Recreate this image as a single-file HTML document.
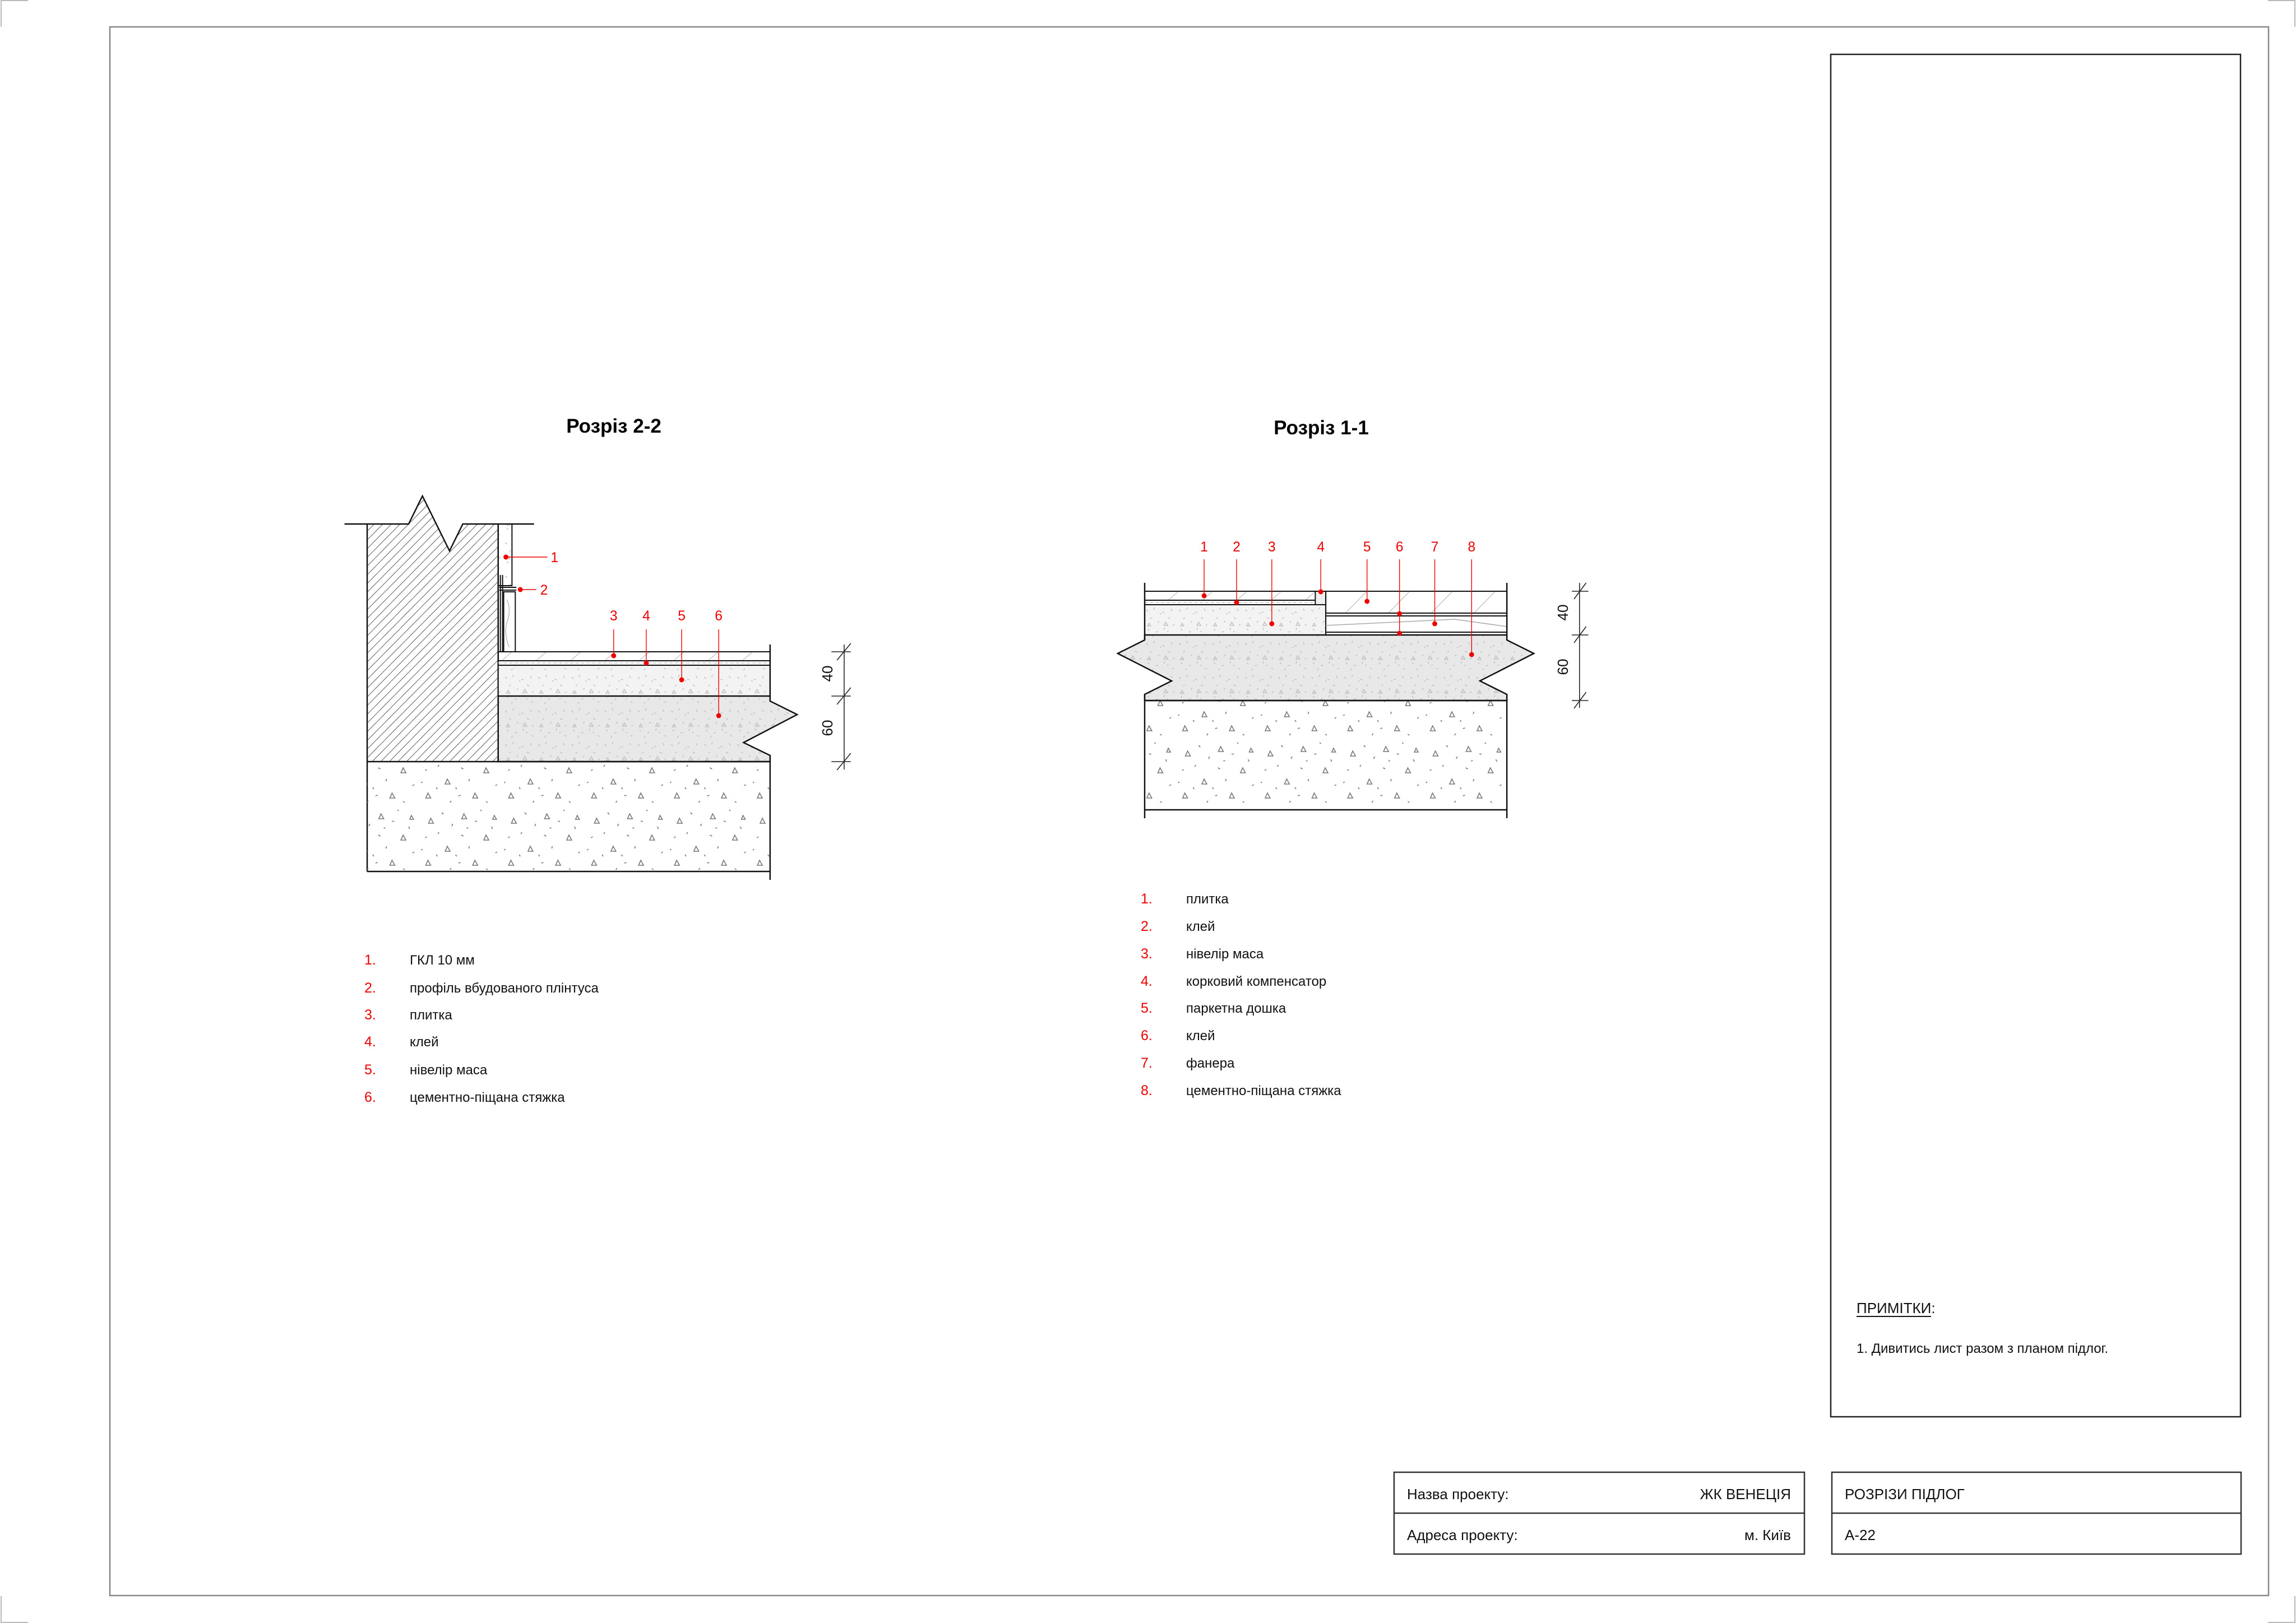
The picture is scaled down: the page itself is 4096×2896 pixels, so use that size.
<!DOCTYPE html>
<html><head><meta charset="utf-8"><style>
html,body{margin:0;padding:0;background:#fff}
svg{display:block}
text{font-family:"Liberation Sans","DejaVu Sans",sans-serif}
</style></head><body>
<svg width="4096" height="2896" viewBox="0 0 4096 2896" xmlns="http://www.w3.org/2000/svg">
<defs>
<pattern id="hatch" width="11" height="11" patternUnits="userSpaceOnUse" patternTransform="rotate(45)">
<line x1="0" y1="0" x2="0" y2="11" stroke="#333" stroke-width="1.6"/></pattern>
<pattern id="tileh" width="40" height="40" patternUnits="userSpaceOnUse" patternTransform="rotate(50)">
<line x1="0" y1="0" x2="0" y2="40" stroke="#999" stroke-width="1.5"/></pattern>
<pattern id="woodh" width="55" height="55" patternUnits="userSpaceOnUse" patternTransform="rotate(45)">
<line x1="0" y1="0" x2="0" y2="55" stroke="#999" stroke-width="1.6"/></pattern>
<pattern id="speck" width="60" height="60" patternUnits="userSpaceOnUse">
<g stroke="#bbb" stroke-width="1.3" fill="none">
<path d="M5 8l3 3M20 4l-2 4M34 12l4 1M50 6l2 4M12 24l3-2M28 28l-2 3M44 22l4 2M56 34l-3 2M8 42l2 3M22 48l4-1M38 40l-1 4M52 52l3 2M16 56l2-3M30 14l2 2M45 46l-2 2"/>
<path d="M40 30l4 6h-7zM10 32l3 5h-6z"/></g></pattern>
<pattern id="conc" width="150" height="120" patternUnits="userSpaceOnUse">
<g stroke="#777" stroke-width="1.6" fill="none">
<path d="M20 20l5 9h-9zM80 12l5 9h-9zM120 50l5 9h-9zM50 70l5 9h-9zM100 95l5 9h-9zM15 95l5 9h-9zM135 15l4 7h-7z"/>
<path d="M40 10l3 3M60 30l-2 4M100 25l4 1M130 35l2 4M10 55l3-2M35 45l-2 3M75 50l4 2M140 80l-3 2M30 85l2 3M70 100l4-1M90 70l-1 4M120 110l3 2M55 112l2-3M110 5l2 2M5 75l-2 2M85 38l3-1M65 85l2 3"/></g></pattern>
</defs>

<g stroke="#bbb" stroke-width="2" fill="none">
<path d="M2 48V1H50"/><path d="M4094 48V1H4046"/><path d="M2 2848V2895H50"/><path d="M4094 2848V2895H4046"/>
</g>
<rect x="196" y="48" width="3851" height="2799" fill="none" stroke="#888" stroke-width="2.5"/>
<rect x="3266" y="97" width="731" height="2431" fill="none" stroke="#222" stroke-width="2.5"/>
<text x="3312" y="2343" font-size="26" fill="#111">ПРИМІТКИ:</text>
<line x1="3312" y1="2349" x2="3445" y2="2349" stroke="#111" stroke-width="2"/>
<text x="3312" y="2414" font-size="24" fill="#111">1. Дивитись лист разом з планом підлог.</text>

<g fill="none" stroke="#333" stroke-width="2.5">
<rect x="2487" y="2627" width="732" height="146"/><line x1="2487" y1="2700" x2="3219" y2="2700"/>
<rect x="3268" y="2627" width="730" height="146"/><line x1="3268" y1="2700" x2="3998" y2="2700"/>
</g>
<g font-size="26" fill="#111">
<text x="2510" y="2675">Назва проекту:</text>
<text x="3195" y="2675" text-anchor="end">ЖК ВЕНЕЦІЯ</text>
<text x="2510" y="2748">Адреса проекту:</text>
<text x="3195" y="2748" text-anchor="end">м. Київ</text>
<text x="3291" y="2675">РОЗРІЗИ ПІДЛОГ</text>
<text x="3291" y="2748">А-22</text>
</g>

<text x="1095" y="772" font-size="35" font-weight="bold" text-anchor="middle" fill="#000">Розріз 2-2</text>
<text x="2357" y="775" font-size="35" font-weight="bold" text-anchor="middle" fill="#000">Розріз 1-1</text>

<!-- ===== LEFT SECTION 2-2 ===== -->
<g transform="translate(9.2 0) scale(0.986 1)">
<path d="M655 935H730L755 885L804 983L828 935H892V1359H655Z" fill="url(#hatch)"/>
<path d="M614 935H730L755 885L804 983L828 935H957" fill="none" stroke="#111" stroke-width="2.5"/>
<line x1="655" y1="935" x2="655" y2="1555" stroke="#111" stroke-width="2.5"/>
<line x1="892" y1="935" x2="892" y2="1359" stroke="#111" stroke-width="2.5"/>
<rect x="892" y="935" width="25" height="110" fill="url(#speck)" stroke="#111" stroke-width="2"/>
<rect x="902" y="1056" width="21" height="107" fill="#fff" stroke="#111" stroke-width="2"/>
<path d="M908 1070q8 20 0 40q-6 20 4 45" fill="none" stroke="#aaa" stroke-width="1.2"/>
<path d="M896 1026V1163M900 1026V1163M894 1048H925M894 1053H925" stroke="#111" stroke-width="2"/>
<rect x="892" y="1163" width="492" height="16" fill="url(#tileh)" stroke="#111" stroke-width="2"/>
<rect x="892" y="1179" width="492" height="8" fill="#fff" stroke="#111" stroke-width="2"/>
<path d="M892 1183H1384" stroke="#aaa" stroke-width="1" stroke-dasharray="6 4"/>
<rect x="892" y="1187" width="492" height="55" fill="#f3f3f3"/>
<rect x="892" y="1187" width="492" height="55" fill="url(#speck)" stroke="#111" stroke-width="2"/>
<path d="M892 1242H1384V1251L1433 1275L1336 1325L1384 1348V1359H892Z" fill="#e8e8e8"/>
<path d="M892 1242H1384V1251L1433 1275L1336 1325L1384 1348V1359H892Z" fill="url(#speck)" stroke="#111" stroke-width="2.5"/>
<rect x="655" y="1359" width="729" height="196" fill="url(#conc)"/>
<path d="M655 1359H1384M655 1555H1384" stroke="#111" stroke-width="2.5"/>
<path d="M1384 1150V1251M1384 1348V1570" stroke="#111" stroke-width="2.5"/>
<g stroke="#222" stroke-width="1.6">
<line x1="1518" y1="1150" x2="1518" y2="1373"/>
<line x1="1495" y1="1163" x2="1530" y2="1163"/><line x1="1505" y1="1178" x2="1530" y2="1148"/>
<line x1="1495" y1="1242" x2="1530" y2="1242"/><line x1="1505" y1="1257" x2="1530" y2="1227"/>
<line x1="1495" y1="1359" x2="1530" y2="1359"/><line x1="1505" y1="1374" x2="1530" y2="1344"/>
</g>
<text transform="translate(1497 1202) rotate(-90)" font-size="26" text-anchor="middle" fill="#111">40</text>
<text transform="translate(1497 1299) rotate(-90)" font-size="26" text-anchor="middle" fill="#111">60</text>
<g stroke="#e00" stroke-width="1.4">
<line x1="906" y1="994" x2="981" y2="994"/><line x1="932" y1="1052" x2="961" y2="1052"/>
<line x1="1101" y1="1123" x2="1101" y2="1170"/><line x1="1160" y1="1123" x2="1160" y2="1183"/>
<line x1="1224" y1="1123" x2="1224" y2="1213"/><line x1="1291" y1="1123" x2="1291" y2="1277"/>
</g>
<g fill="#e00">
<circle cx="906" cy="994" r="4.5"/><circle cx="932" cy="1052" r="4.5"/><circle cx="1101" cy="1170" r="4.5"/>
<circle cx="1160" cy="1183" r="4.5"/><circle cx="1224" cy="1213" r="4.5"/><circle cx="1291" cy="1277" r="4.5"/>
</g>
<g font-size="25" fill="#e00" text-anchor="middle">
<text x="994" y="1003">1</text><text x="975" y="1061">2</text>
<text x="1101" y="1107">3</text><text x="1160" y="1107">4</text><text x="1224" y="1107">5</text><text x="1291" y="1107">6</text>
</g>
</g>
<g font-size="25" fill="#e00"><text x="650" y="1721">1.</text><text x="650" y="1771">2.</text><text x="650" y="1819">3.</text><text x="650" y="1867">4.</text><text x="650" y="1917">5.</text><text x="650" y="1966">6.</text></g>
<g font-size="24" fill="#111"><text x="731" y="1721">ГКЛ 10 мм</text><text x="731" y="1771">профіль вбудованого плінтуса</text><text x="731" y="1819">плитка</text><text x="731" y="1867">клей</text><text x="731" y="1917">нівелір маса</text><text x="731" y="1966">цементно-піщана стяжка</text></g>

<!-- ===== RIGHT SECTION 1-1 ===== -->
<g transform="translate(36.8 0) scale(0.982 1)">
<rect x="2042" y="1055" width="310" height="16" fill="url(#tileh)" stroke="#111" stroke-width="2"/>
<rect x="2042" y="1071" width="310" height="8" fill="#fff" stroke="#111" stroke-width="2"/>
<path d="M2042 1075H2352" stroke="#aaa" stroke-width="1" stroke-dasharray="6 4"/>
<rect x="2352" y="1055" width="19" height="24" fill="#eee" stroke="#111" stroke-width="2"/>
<rect x="2042" y="1079" width="329" height="54" fill="#f3f3f3"/>
<rect x="2042" y="1079" width="329" height="54" fill="url(#speck)" stroke="#111" stroke-width="2"/>
<rect x="2371" y="1055" width="329" height="39" fill="url(#woodh)" stroke="#111" stroke-width="2"/>
<rect x="2371" y="1094" width="329" height="5" fill="#fff" stroke="#111" stroke-width="2"/>
<rect x="2371" y="1099" width="329" height="29" fill="#fff" stroke="#111" stroke-width="2"/>
<path d="M2371 1116L2605 1105L2700 1118" fill="none" stroke="#aaa" stroke-width="1.5"/>
<rect x="2371" y="1128" width="329" height="5" fill="#fff" stroke="#111" stroke-width="2"/>
<path d="M2042 1133H2700V1142L2749 1166L2651 1215L2700 1239V1250H2042V1239L2091 1215L1993 1166L2042 1142Z" fill="#e8e8e8"/>
<path d="M2042 1133H2700V1142L2749 1166L2651 1215L2700 1239V1250H2042V1239L2091 1215L1993 1166L2042 1142Z" fill="url(#speck)" stroke="#111" stroke-width="2.5"/>
<rect x="2042" y="1250" width="658" height="195" fill="url(#conc)"/>
<path d="M2042 1250H2700M2042 1445H2700" stroke="#111" stroke-width="2.5"/>
<path d="M2042 1040V1142M2042 1239V1460M2700 1040V1142M2700 1239V1460" stroke="#111" stroke-width="2.5"/>
<g stroke="#222" stroke-width="1.6">
<line x1="2832" y1="1040" x2="2832" y2="1263"/>
<line x1="2818" y1="1055" x2="2848" y2="1055"/><line x1="2822" y1="1069" x2="2844" y2="1040"/>
<line x1="2818" y1="1133" x2="2848" y2="1133"/><line x1="2822" y1="1147" x2="2844" y2="1118"/>
<line x1="2818" y1="1250" x2="2848" y2="1250"/><line x1="2822" y1="1264" x2="2844" y2="1235"/>
</g>
<text transform="translate(2811 1093) rotate(-90)" font-size="26" text-anchor="middle" fill="#111">40</text>
<text transform="translate(2811 1190) rotate(-90)" font-size="26" text-anchor="middle" fill="#111">60</text>
<g stroke="#e00" stroke-width="1.4">
<line x1="2150" y1="998" x2="2150" y2="1063"/><line x1="2209" y1="998" x2="2209" y2="1075"/>
<line x1="2273" y1="998" x2="2273" y2="1113"/><line x1="2362" y1="998" x2="2362" y2="1056"/>
<line x1="2446" y1="998" x2="2446" y2="1073"/><line x1="2505" y1="998" x2="2505" y2="1130"/>
<line x1="2569" y1="998" x2="2569" y2="1113"/><line x1="2636" y1="998" x2="2636" y2="1168"/>
</g>
<g fill="#e00">
<circle cx="2150" cy="1063" r="4.5"/><circle cx="2209" cy="1075" r="4.5"/><circle cx="2273" cy="1113" r="4.5"/>
<circle cx="2362" cy="1056" r="4.5"/><circle cx="2446" cy="1073" r="4.5"/><circle cx="2505" cy="1095" r="4.5"/>
<circle cx="2505" cy="1130" r="4.5"/><circle cx="2569" cy="1113" r="4.5"/><circle cx="2636" cy="1168" r="4.5"/>
</g>
<g font-size="25" fill="#e00" text-anchor="middle">
<text x="2150" y="984">1</text><text x="2209" y="984">2</text><text x="2273" y="984">3</text><text x="2362" y="984">4</text>
<text x="2446" y="984">5</text><text x="2505" y="984">6</text><text x="2569" y="984">7</text><text x="2636" y="984">8</text>
</g>
</g>
<g font-size="25" fill="#e00"><text x="2035" y="1612">1.</text><text x="2035" y="1661">2.</text><text x="2035" y="1710">3.</text><text x="2035" y="1759">4.</text><text x="2035" y="1807">5.</text><text x="2035" y="1856">6.</text><text x="2035" y="1905">7.</text><text x="2035" y="1954">8.</text></g>
<g font-size="24" fill="#111"><text x="2116" y="1612">плитка</text><text x="2116" y="1661">клей</text><text x="2116" y="1710">нівелір маса</text><text x="2116" y="1759">корковий компенсатор</text><text x="2116" y="1807">паркетна дошка</text><text x="2116" y="1856">клей</text><text x="2116" y="1905">фанера</text><text x="2116" y="1954">цементно-піщана стяжка</text></g>
</svg>
</body></html>
